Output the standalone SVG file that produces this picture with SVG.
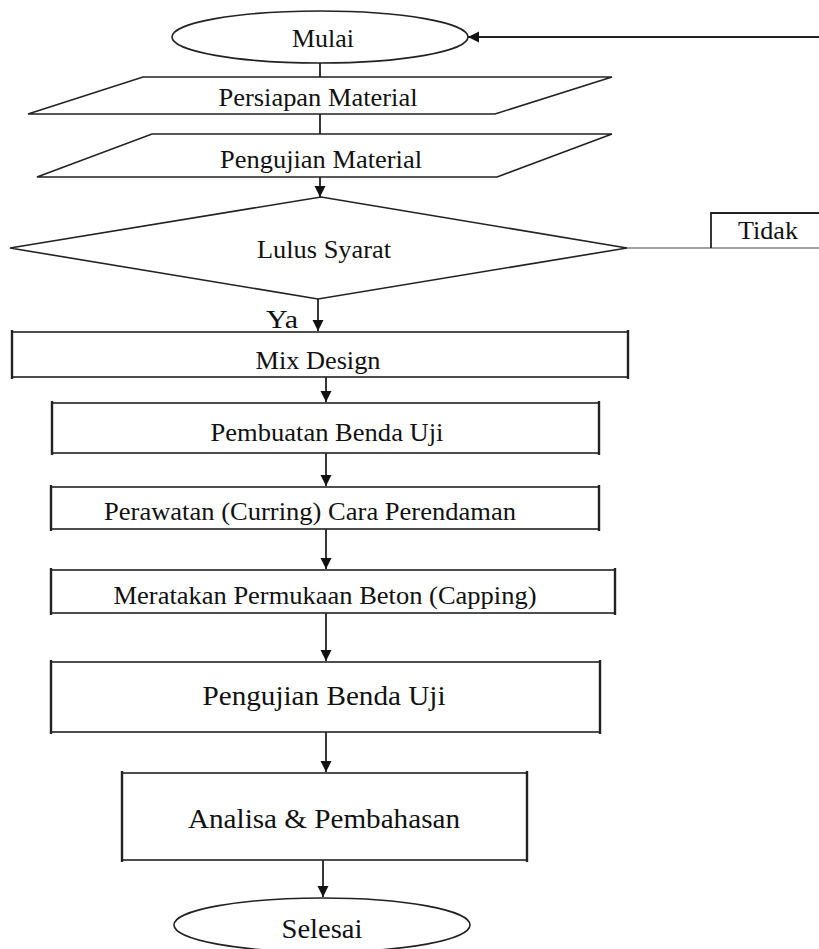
<svg xmlns="http://www.w3.org/2000/svg" width="819" height="949" viewBox="0 0 819 949">
<defs>
<style>
.shape{fill:#fff;stroke:#222;stroke-width:1.6}
.side{stroke:#222;stroke-width:2.4;fill:none}
.conn{stroke:#222;stroke-width:1.8;fill:none}
.thin{stroke:#444;stroke-width:1;fill:none}
.t{font-family:"Liberation Serif","Times New Roman",serif;fill:#111;text-anchor:middle}
.s{font-size:25px}
.b{font-size:28px}
</style>
<marker id="ah" markerWidth="12" markerHeight="12" refX="11" refY="5.5" orient="auto" markerUnits="userSpaceOnUse">
<path d="M0,0 L11,5.5 L0,11 Z" fill="#111"/>
</marker>
</defs>
<rect width="819" height="949" fill="#fff"/>
<g id="connectors">
<line class="conn" x1="819" y1="37" x2="468" y2="37" marker-end="url(#ah)"/>
<line class="conn" x1="320" y1="63" x2="320" y2="77"/>
<line class="conn" x1="320" y1="114" x2="320" y2="134"/>
<line class="conn" x1="320" y1="177" x2="320" y2="197" marker-end="url(#ah)"/>
<line class="thin" x1="627" y1="248" x2="819" y2="248"/>
<line class="conn" x1="318" y1="299" x2="318" y2="331" marker-end="url(#ah)"/>
<line class="conn" x1="326" y1="377" x2="326" y2="402" marker-end="url(#ah)"/>
<line class="conn" x1="326" y1="453" x2="326" y2="486" marker-end="url(#ah)"/>
<line class="conn" x1="326" y1="529" x2="326" y2="569" marker-end="url(#ah)"/>
<line class="conn" x1="326" y1="613" x2="326" y2="661" marker-end="url(#ah)"/>
<line class="conn" x1="326" y1="732" x2="326" y2="772" marker-end="url(#ah)"/>
<line class="conn" x1="323" y1="860" x2="323" y2="897" marker-end="url(#ah)"/>
</g>
<g id="mulai">
<ellipse class="shape" cx="320" cy="37" rx="148" ry="26"/>
<text class="t s" x="323" y="47" textLength="62" lengthAdjust="spacingAndGlyphs">Mulai</text>
</g>
<g id="persiapan">
<polygon class="shape" points="143,77 612,77 495,114 28,114"/>
<text class="t s" x="318" y="106" textLength="199" lengthAdjust="spacingAndGlyphs">Persiapan Material</text>
</g>
<g id="pengujian-material">
<polygon class="shape" points="152,134 612,134 497,177 37,177"/>
<text class="t s" x="321" y="168" textLength="202" lengthAdjust="spacingAndGlyphs">Pengujian Material</text>
</g>
<g id="lulus">
<polygon class="shape" points="321,197 627,248 318,299 10,248"/>
<text class="t s" x="324" y="258" textLength="134" lengthAdjust="spacingAndGlyphs">Lulus Syarat</text>
</g>
<g id="tidak">
<polyline class="conn" points="711,248 711,213 819,213"/>
<text class="t s" x="768" y="239" textLength="60" lengthAdjust="spacingAndGlyphs">Tidak</text>
</g>
<text class="t s" x="282" y="328" textLength="32" lengthAdjust="spacingAndGlyphs">Ya</text>
<g id="mix">
<rect class="shape" x="12" y="332" width="616" height="45"/>
<line class="side" x1="12" y1="330" x2="12" y2="379"/>
<line class="side" x1="628" y1="330" x2="628" y2="379"/>
<text class="t s" x="318" y="369" textLength="125" lengthAdjust="spacingAndGlyphs">Mix Design</text>
</g>
<g id="pembuatan">
<rect class="shape" x="52" y="403" width="547" height="50"/>
<line class="side" x1="52" y1="401" x2="52" y2="455"/>
<line class="side" x1="599" y1="401" x2="599" y2="455"/>
<text class="t s" x="327" y="441" textLength="233" lengthAdjust="spacingAndGlyphs">Pembuatan Benda Uji</text>
</g>
<g id="perawatan">
<rect class="shape" x="51" y="487" width="548" height="42"/>
<line class="side" x1="51" y1="485" x2="51" y2="531"/>
<line class="side" x1="599" y1="485" x2="599" y2="531"/>
<text class="t s" x="310" y="520" textLength="412" lengthAdjust="spacingAndGlyphs">Perawatan (Curring) Cara Perendaman</text>
</g>
<g id="meratakan">
<rect class="shape" x="51" y="570" width="564" height="43"/>
<line class="side" x1="51" y1="568" x2="51" y2="615"/>
<line class="side" x1="615" y1="568" x2="615" y2="615"/>
<text class="t s" x="325" y="604" textLength="423" lengthAdjust="spacingAndGlyphs">Meratakan Permukaan Beton (Capping)</text>
</g>
<g id="pengujian-benda">
<rect class="shape" x="51" y="662" width="549" height="70"/>
<line class="side" x1="51" y1="660" x2="51" y2="734"/>
<line class="side" x1="600" y1="660" x2="600" y2="734"/>
<text class="t b" x="324" y="705" textLength="243" lengthAdjust="spacingAndGlyphs">Pengujian Benda Uji</text>
</g>
<g id="analisa">
<rect class="shape" x="122" y="773" width="405" height="87"/>
<line class="side" x1="122" y1="771" x2="122" y2="862"/>
<line class="side" x1="527" y1="771" x2="527" y2="862"/>
<text class="t b" x="324" y="828" textLength="272" lengthAdjust="spacingAndGlyphs">Analisa &amp; Pembahasan</text>
</g>
<g id="selesai">
<ellipse class="shape" cx="322" cy="925" rx="148" ry="27"/>
<text class="t b" x="322" y="938" textLength="81" lengthAdjust="spacingAndGlyphs">Selesai</text>
</g>
</svg>
